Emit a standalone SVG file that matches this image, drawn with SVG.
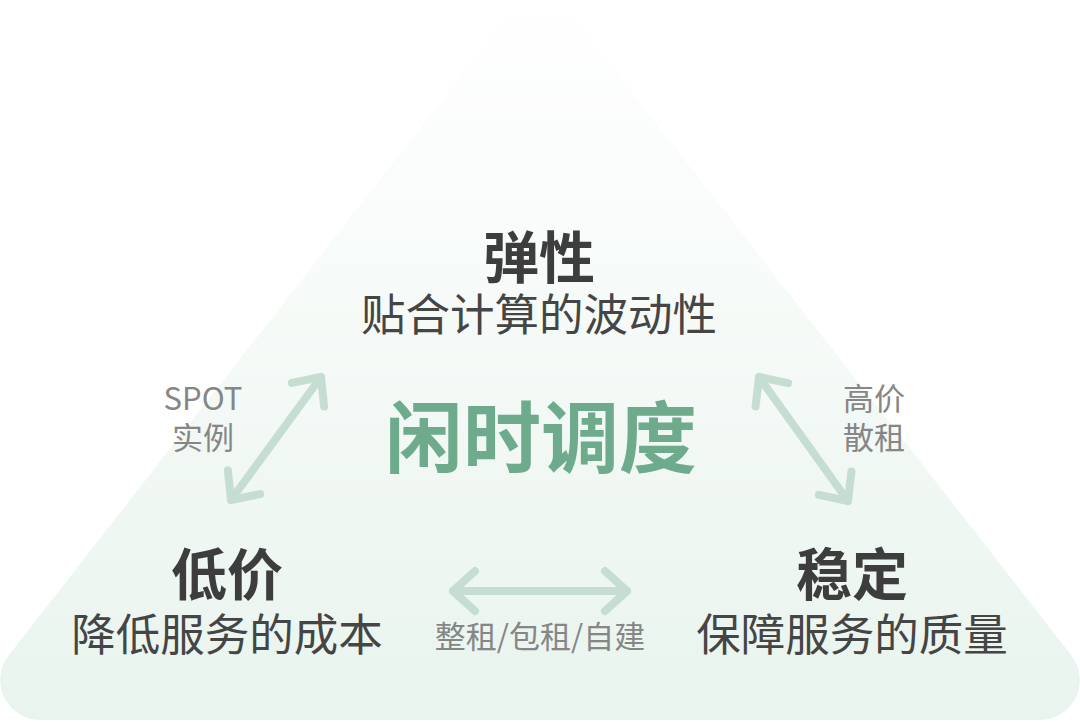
<svg xmlns="http://www.w3.org/2000/svg" width="1080" height="722" viewBox="0 0 1080 722">
<defs>
<linearGradient id="bg" x1="0" y1="0" x2="0" y2="720" gradientUnits="userSpaceOnUse">
<stop offset="0" stop-color="#ffffff"/>
<stop offset="1" stop-color="#e9f4ee"/>
</linearGradient>
<marker id="head" viewBox="-30 -30 40 60" refX="0" refY="0" markerWidth="40" markerHeight="60" markerUnits="userSpaceOnUse" orient="auto-start-reverse" overflow="visible">
<path d="M -22 -20 L 0 0 L -22 20" fill="none" stroke="#c6ded2" stroke-width="8" stroke-linecap="round" stroke-linejoin="round"/>
</marker>
<style>
text{font-family:"Noto Sans CJK SC","Noto Sans",sans-serif;text-anchor:middle}
.t{font-size:56px;font-weight:700;fill:#3d3d3d}
.s{font-size:44.5px;font-weight:400;fill:#454545}
.g{font-size:31px;font-weight:400;fill:#868686}
.c{font-size:78px;font-weight:700;fill:#6eab8d}
.a{fill:none;stroke:#c6ded2;stroke-width:8;stroke-linecap:round;marker-start:url(#head);marker-end:url(#head)}
</style>
</defs>
<path id="pyramid" d="M 510.6 12 Q 540 -26 569.4 12 L 1071 655 A 40 40 0 0 1 1040 720 L 40 720 A 40 40 0 0 1 9 655 Z" fill="url(#bg)"/>
<g id="connectors">
<line class="a" x1="231" y1="500" x2="321" y2="377"/>
<line class="a" x1="759" y1="377" x2="848" y2="501"/>
<line class="a" x1="453" y1="591" x2="627" y2="591"/>
</g>
<g id="center"><text class="c" x="541" y="467">闲时调度</text></g>
<g id="top-node">
<text class="t" x="539" y="278">弹性</text>
<text class="s" x="539" y="331">贴合计算的波动性</text>
</g>
<g id="left-node">
<text class="t" x="227" y="595">低价</text>
<text class="s" x="227" y="651">降低服务的成本</text>
</g>
<g id="right-node">
<text class="t" x="852" y="595">稳定</text>
<text class="s" x="852" y="651">保障服务的质量</text>
</g>
<g id="label-left">
<text class="g" x="203" y="410">SPOT</text>
<text class="g" x="203" y="449">实例</text>
</g>
<g id="label-right">
<text class="g" x="874" y="410">高价</text>
<text class="g" x="874" y="449">散租</text>
</g>
<g id="label-bottom"><text class="g" x="540" y="648">整租/包租/自建</text></g>
</svg>
